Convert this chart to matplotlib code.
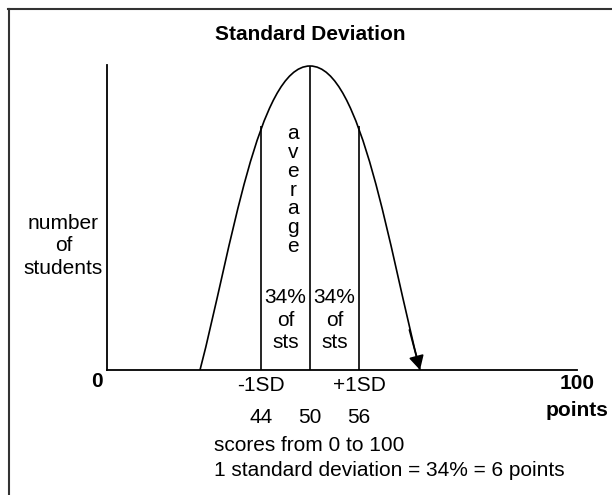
import matplotlib
matplotlib.use('Agg')
from matplotlib import pyplot as plt
from matplotlib.path import Path
from matplotlib.patches import PathPatch
from matplotlib.lines import Line2D

plt.rcParams['font.family'] = ['Liberation Sans', 'DejaVu Sans']
BOLD = ['Liberation Sans Narrow', 'Liberation Sans', 'DejaVu Sans']

# scores on the x axis, the mean and one standard deviation either side
mean = 50
sd = 6
scores = [44, 50, 56]
sd_labels = ['-1SD', '+1SD']
share_labels = ['34%\nof\nsts', '34%\nof\nsts']

# bell outline: half profile (distance from the mean in points, height in %)
# given as bezier control points, base -> peak
half_dx = [13.47, 9.65, 6.37, 0.0]
half_h = [0.0, 39.5, 100.0, 100.0]
# height where the +/-1SD lines meet the bell
sd_height = 80.3
peak_height = 100.0

fig = plt.figure(figsize=(6.12, 4.95), dpi=100)
ax = fig.add_axes([107 / 612, 125 / 495, 470 / 612, 305 / 495])
ax.set_xlim(mean - 203 * sd / 49, mean + 267 * sd / 49)
ax.set_ylim(0, 305 / 3.04)
ax.spines[['top', 'right']].set_visible(False)
for s in ['left', 'bottom']:
    ax.spines[s].set_linewidth(1.3)
ax.set_xticks([])
ax.set_yticks([])
ax.patch.set_visible(False)

# left half goes up from the base, right half comes back down
verts = [(mean - d, h) for d, h in zip(half_dx, half_h)]
verts += [(mean + d, h) for d, h in list(zip(half_dx, half_h))[::-1][1:]]
codes = [Path.MOVETO] + [Path.CURVE4] * 6
bell = PathPatch(Path(verts, codes), fill=False, lw=1.2, color='black')
ax.add_patch(bell)

# arrow head at the right foot of the bell
end = (mean + half_dx[0], half_h[0])
ax.annotate('', xy=end, xytext=(end[0] - 1.3, 13.2),
            arrowprops=dict(arrowstyle='-|>,head_length=8.6,head_width=4.6',
                            mutation_scale=1, color='black', lw=1.2,
                            shrinkA=0, shrinkB=0))

# mean and +/-1SD lines
ax.vlines(scores, 0, [sd_height, peak_height, sd_height], color='black', lw=1.2)

FS = 15
ax.text(mean, 110.3, 'Standard Deviation', ha='center', va='center',
        fontsize=15, fontweight='bold', family=BOLD, clip_on=False)
ax.text(19.8, 40.8, 'number\nof\nstudents', ha='center', va='center',
        fontsize=FS, linespacing=1.26, clip_on=False)
ax.text(47.9, 59.2, '\n'.join('average'), ha='center', va='center',
        fontsize=FS, linespacing=0.98, clip_on=False)
for x, lab in zip([(scores[0] + scores[1]) / 2, (scores[1] + scores[2]) / 2], share_labels):
    ax.text(x, 16.4, lab, ha='center', va='center', fontsize=FS,
            linespacing=1.24, clip_on=False)

ax.text(23.9, -3.9, '0', ha='center', va='center', fontsize=15,
        fontweight='bold', family=BOLD, clip_on=False)
ax.text(82.7, -4.3, '100', ha='center', va='center', fontsize=15,
        fontweight='bold', family=BOLD, clip_on=False)
ax.text(82.7, -13.2, 'points', ha='center', va='center', fontsize=15,
        fontweight='bold', family=BOLD, clip_on=False)
for x, lab in zip([mean - sd, mean + sd], sd_labels):
    ax.text(x, -5.2, lab, ha='center', va='center', fontsize=FS, clip_on=False)
for x in scores:
    ax.text(x, -15.7, str(x), ha='center', va='center', fontsize=FS, clip_on=False)
ax.text(38.2, -24.7, 'scores from 0 to 100', ha='left', va='center',
        fontsize=FS, clip_on=False)
ax.text(38.2, -33.2, '1 standard deviation = 34% = 6 points', ha='left',
        va='center', fontsize=FS, clip_on=False)

# frame around the figure (top and left edges)
fig.add_artist(Line2D([8 / 612, 1], [1 - 9 / 495] * 2, transform=fig.transFigure,
                      color='#333333', lw=1.5))
fig.add_artist(Line2D([9 / 612] * 2, [0, 1 - 9 / 495], transform=fig.transFigure,
                      color='#333333', lw=1.5))

fig.savefig('out.png', dpi=100)
